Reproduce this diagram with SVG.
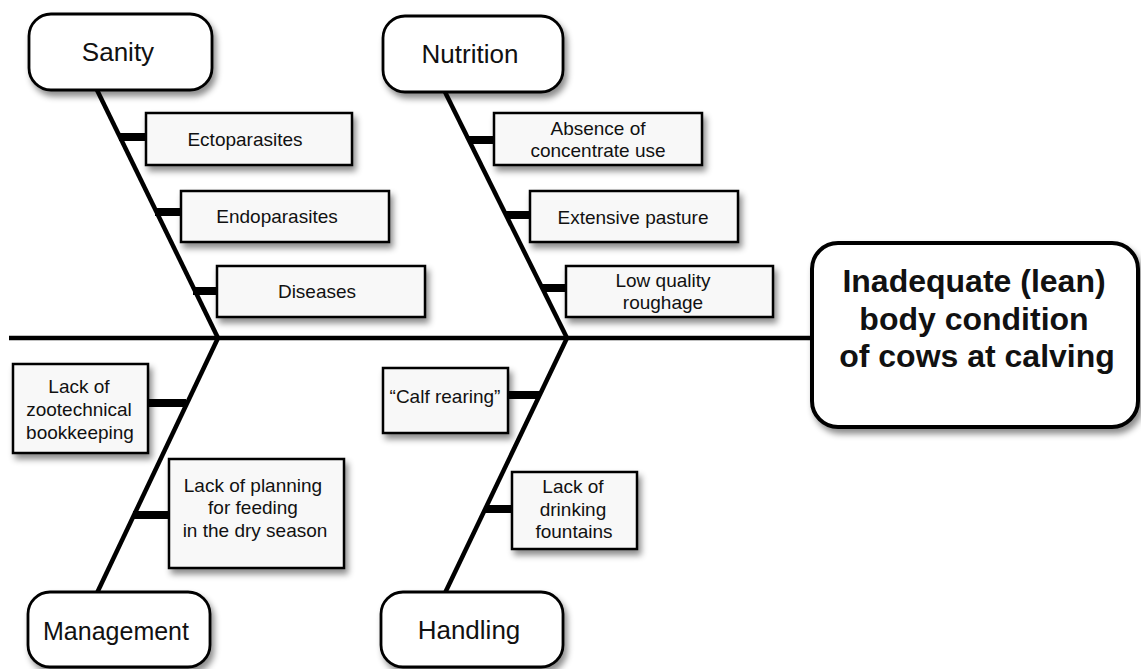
<svg xmlns="http://www.w3.org/2000/svg" width="1141" height="669" viewBox="0 0 1141 669">
<defs>
<filter id="sh" x="-10%" y="-10%" width="130%" height="140%">
<feDropShadow dx="3" dy="5" stdDeviation="3" flood-color="#000" flood-opacity="0.45"/>
</filter>
<style>
.cat{fill:#fff;stroke:#000;stroke-width:2.8;filter:url(#sh)}
.box{fill:#f8f8f8;stroke:#000;stroke-width:2.5;filter:url(#sh)}
.eff{fill:#fff;stroke:#000;stroke-width:4;filter:url(#sh)}
.ct{font-family:"Liberation Sans",Arial,sans-serif;font-size:26px;text-anchor:middle;fill:#111}
.t{font-family:"Liberation Sans",Arial,sans-serif;font-size:19px;text-anchor:middle;fill:#111}
.et{font-family:"Liberation Sans",Arial,sans-serif;font-size:32px;font-weight:bold;text-anchor:middle;fill:#111}
.sp{stroke:#000;stroke-width:4.5;fill:none}
.tk{stroke:#000;stroke-width:8;fill:none}
</style>
</defs>
<rect width="1141" height="669" fill="#fff"/>
<g id="connectors">
<line class="sp" x1="9" y1="338" x2="814" y2="338"/>
<line class="sp" x1="97" y1="90" x2="218" y2="338"/>
<line class="sp" x1="218" y1="338" x2="97" y2="593"/>
<line class="sp" x1="445" y1="92" x2="567" y2="338"/>
<line class="sp" x1="567" y1="338" x2="445" y2="593"/>
<line class="tk" x1="119" y1="137" x2="147" y2="137"/>
<line class="tk" x1="155" y1="212" x2="182" y2="212"/>
<line class="tk" x1="193" y1="291" x2="218" y2="291"/>
<line class="tk" x1="469" y1="140" x2="495" y2="140"/>
<line class="tk" x1="506" y1="215" x2="531" y2="215"/>
<line class="tk" x1="542" y1="288" x2="567" y2="288"/>
<line class="tk" x1="148" y1="403" x2="186" y2="403"/>
<line class="tk" x1="133" y1="515" x2="170" y2="515"/>
<line class="tk" x1="508" y1="395" x2="540" y2="395"/>
<line class="tk" x1="485" y1="509" x2="513" y2="509"/>
</g>
<g id="sanity"><rect class="cat" x="29" y="14" width="183" height="76" rx="22"/><text class="ct" x="118" y="61">Sanity</text></g>
<g id="nutrition"><rect class="cat" x="383" y="16" width="180" height="76" rx="22"/><text class="ct" x="470" y="63">Nutrition</text></g>
<g id="management"><rect class="cat" x="28" y="592" width="182" height="75" rx="22"/><text class="ct" x="116" y="640" style="font-size:25px">Management</text></g>
<g id="handling"><rect class="cat" x="381" y="592" width="182" height="75" rx="22"/><text class="ct" x="469" y="639">Handling</text></g>
<g id="ectoparasites"><rect class="box" x="146" y="113" width="206" height="52"/><text class="t" x="245" y="146">Ectoparasites</text></g>
<g id="endoparasites"><rect class="box" x="181" y="191" width="208" height="51"/><text class="t" x="277" y="223">Endoparasites</text></g>
<g id="diseases"><rect class="box" x="217" y="266" width="208" height="51"/><text class="t" x="317" y="298">Diseases</text></g>
<g id="absence"><rect class="box" x="494" y="113" width="208" height="52"/><text class="t" x="598" y="135">Absence of</text><text class="t" x="598" y="157">concentrate use</text></g>
<g id="pasture"><rect class="box" x="530" y="191" width="208" height="51"/><text class="t" x="633" y="224">Extensive pasture</text></g>
<g id="roughage"><rect class="box" x="566" y="266" width="207" height="51"/><text class="t" x="663" y="287">Low quality</text><text class="t" x="663" y="309">roughage</text></g>
<g id="bookkeeping"><rect class="box" x="13" y="364" width="135" height="89"/><text class="t" x="79" y="393">Lack of</text><text class="t" x="79" y="416">zootechnical</text><text class="t" x="80" y="439">bookkeeping</text></g>
<g id="planning"><rect class="box" x="169" y="459" width="175" height="109"/><text class="t" x="253" y="492">Lack of planning</text><text class="t" x="253" y="514">for feeding</text><text class="t" x="255" y="537">in the dry season</text></g>
<g id="calf"><rect class="box" x="383" y="368" width="125" height="65"/><text class="t" x="445" y="403">“Calf rearing”</text></g>
<g id="fountains"><rect class="box" x="512" y="472" width="125" height="77"/><text class="t" x="573" y="493">Lack of</text><text class="t" x="573" y="516">drinking</text><text class="t" x="574" y="538">fountains</text></g>
<g id="effect"><rect class="eff" x="812" y="243" width="326" height="184" rx="26"/><text class="et" x="974" y="292">Inadequate (lean)</text><text class="et" x="974" y="330">body condition</text><text class="et" x="977" y="367">of cows at calving</text></g>
</svg>
